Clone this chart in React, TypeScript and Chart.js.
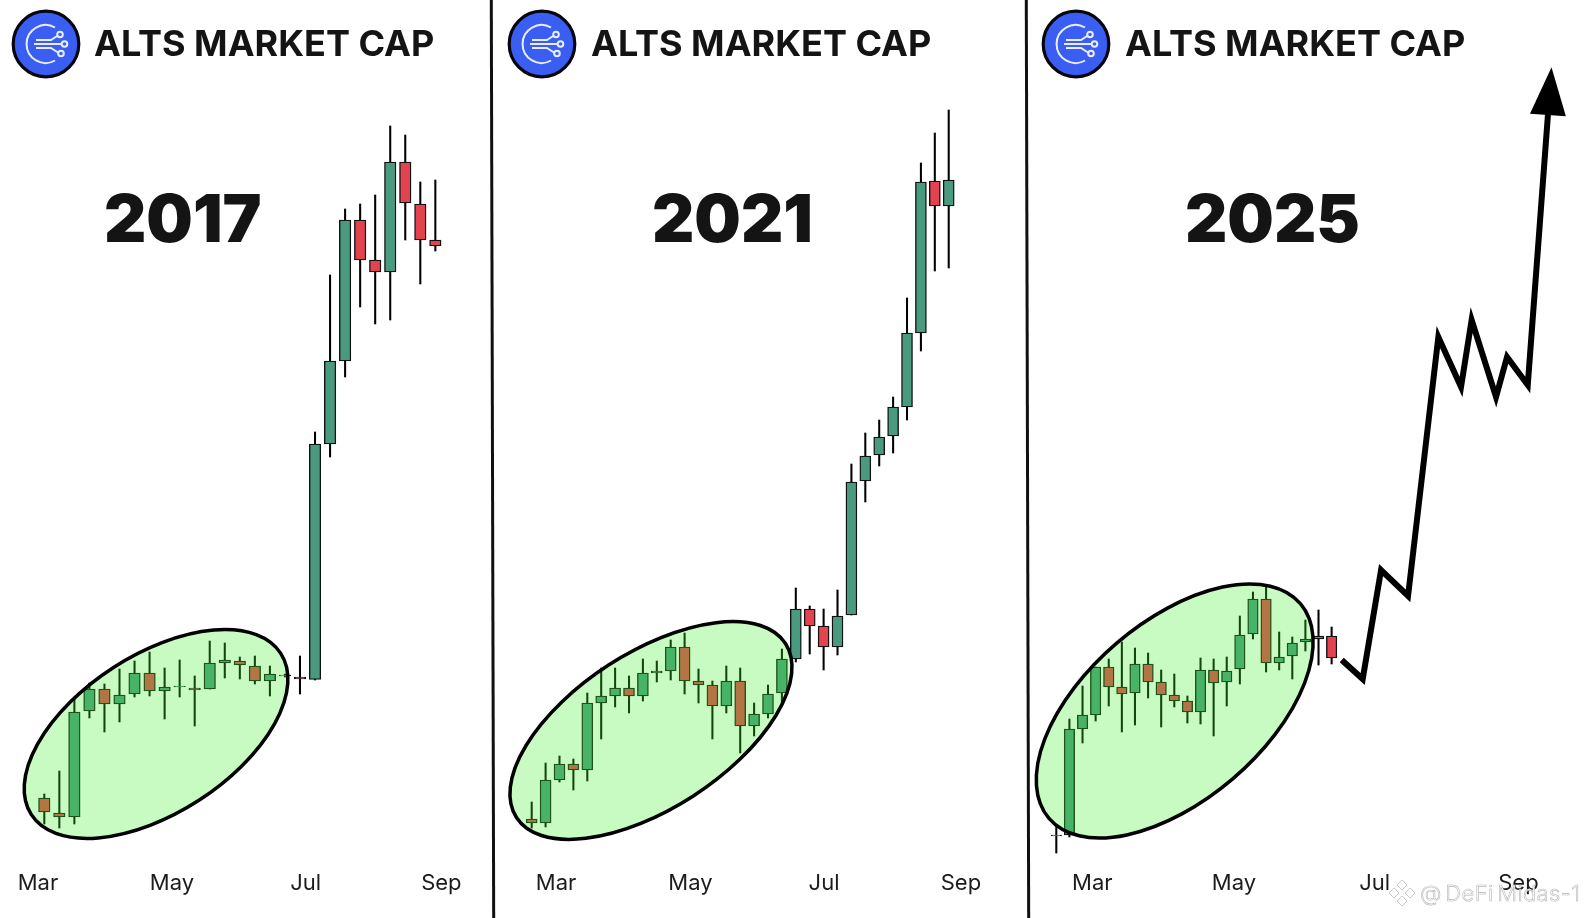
import React, { useEffect, useRef } from "react";
import { Chart, registerables } from "chart.js";

Chart.register(...registerables);

// 2017 weekly candles (index units)
const opens2017 = [120, 105, 101, 207, 229, 214, 224, 245, 227, 231, 230, 229, 255, 257, 252, 237, 242, 241, 238.5, 474, 557, 698, 658, 646, 756, 714, 678];
const closes2017 = [106, 101, 206, 229, 214, 223, 245, 227, 231, 232, 228, 255, 258, 253, 237, 244, 243, 239, 474, 557, 698, 658, 646, 756, 715, 678, 672];
const lows2017 = [94, 90, 94, 200, 186, 196, 221, 222, 199, 221, 192, 229, 240, 239, 234, 222, 241, 224, 238, 461, 541, 611, 594, 598, 678, 634, 667];
const highs2017 = [124, 147, 221, 235, 234, 249, 257, 266, 250, 258, 242, 277, 275, 261, 262, 252, 244, 262, 486, 643, 709, 714, 723, 792, 783, 736, 738];

// 2021 weekly candles
const opens2021 = [99, 95, 138, 154, 148, 215, 222, 230, 222, 245, 247, 271, 237, 233, 212, 237, 192, 204, 225, 259, 309, 292, 271, 303, 437, 463, 482, 511, 585, 737, 712];
const closes2021 = [95, 138, 154, 148, 215, 222, 230, 222, 245, 247, 271, 237, 233, 212, 237, 192, 204, 224, 259, 309, 292, 271, 302, 436, 462, 481, 511, 585, 736, 712, 738];
const lows2021 = [90, 91, 136, 128, 137, 179, 211, 205, 217, 236, 238, 224, 215, 179, 205, 165, 182, 200, 214, 256, 264, 248, 263, 303, 416, 452, 465, 498, 567, 647, 650];
const highs2021 = [116, 155, 162, 159, 225, 250, 250, 242, 259, 257, 278, 285, 249, 237, 252, 250, 215, 233, 269, 330, 312, 309, 328, 454, 485, 498, 521, 620, 755, 785, 808];

// 2025 weekly candles
const opens2025 = [82, 83, 189, 203, 251, 231, 225, 254, 236, 223, 217, 206, 248, 236, 249, 284, 319, 255, 262, 276, 279, 282];
const closes2025 = [83, 189, 203, 251, 231, 224, 254, 236, 223, 217, 206, 248, 235, 247, 283, 319, 255, 261, 275, 279, 282, 260];
const lows2025 = [65, 81, 175, 197, 212, 186, 193, 220, 191, 211, 195, 194, 182, 212, 234, 279, 246, 248, 239, 267, 253, 254];
const highs2025 = [92, 199, 232, 251, 259, 276, 270, 265, 248, 244, 222, 260, 259, 261, 302, 326, 331, 286, 281, 298, 308, 291];

// hand-drawn projection after the last 2025 candle
const forecastWeeks = [21.77, 23.37, 24.77, 26.83, 29.14, 30.87, 31.68, 33.54, 34.38, 35.96, 37.51];
const forecastValues = [258, 239, 348, 322, 581, 531, 598, 521, 561, 533, 805];

// month labels and where they fall on the week axis
const monthLabels = ["Mar", "May", "Jul", "Sep"];
const monthWeeks2017 = [-0.42, 8.49, 17.38, 26.4];
const monthWeeks2021 = [1.75, 11.42, 21.03, 30.88];
const monthWeeks2025 = [2.75, 13.55, 24.28, 35.25];

const UP = "#4a9a80";
const DOWN = "#e2434f";
const INK = "#000000";
const VALUE_MIN = 58;
const VALUE_MAX = 918;
const AXIS_H = 58;

type Panel = {
  left: number; width: number; xMin: number; xMax: number;
  o: number[]; c: number[]; l: number[]; h: number[]; months: number[];
  bar: number; ell: { x: number; y: number; a: number; b: number; rot: number };
  forecast?: boolean;
};

const panels: Panel[] = [
  { left: 0, width: 490, xMin: -2.945, xMax: 29.634, o: opens2017, c: closes2017, l: lows2017, h: highs2017, months: monthWeeks2017, bar: 11.5,
    ell: { x: 7.43, y: 184, a: 148.5, b: 79, rot: -32.9 } },
  { left: 493, width: 533, xMin: -2.784, xMax: 35.56, o: opens2021, c: closes2021, l: lows2021, h: highs2021, months: monthWeeks2021, bar: 11,
    ell: { x: 8.58, y: 187.5, a: 160.2, b: 78, rot: -32.9 } },
  { left: 1028, width: 564, xMin: -2.159, xMax: 40.86, o: opens2025, c: closes2025, l: lows2025, h: highs2025, months: monthWeeks2025, bar: 10.5,
    ell: { x: 9.03, y: 207, a: 165.3, b: 89.3, rot: -40.5 }, forecast: true },
];

function PanelChart({ p }: { p: Panel }) {
  const ref = useRef<HTMLCanvasElement>(null);
  useEffect(() => {
    const idx = p.o.map((_, i) => i);
    const colors = p.o.map((v, i) => (p.c[i] >= v ? UP : DOWN));
    const overlay = {
      id: "overlay",
      afterDatasetsDraw(chart: any) {
        const { ctx, scales } = chart;
        const e = p.ell;
        ctx.save();
        ctx.translate(scales.x.getPixelForValue(e.x), scales.y.getPixelForValue(e.y));
        ctx.rotate((e.rot * Math.PI) / 180);
        ctx.beginPath();
        ctx.ellipse(0, 0, e.a, e.b, 0, 0, Math.PI * 2);
        ctx.fillStyle = "rgba(65,242,42,0.29)";
        ctx.fill();
        ctx.lineWidth = 3.5;
        ctx.strokeStyle = "#000";
        ctx.stroke();
        ctx.restore();
        if (p.forecast) {
          const n = forecastWeeks.length - 1;
          const tx = scales.x.getPixelForValue(forecastWeeks[n]);
          const ty = scales.y.getPixelForValue(forecastValues[n]);
          const px = scales.x.getPixelForValue(forecastWeeks[n - 1]);
          const py = scales.y.getPixelForValue(forecastValues[n - 1]);
          const ang = Math.atan2(ty - py, tx - px);
          ctx.save();
          ctx.translate(tx, ty);
          ctx.rotate(ang);
          ctx.beginPath();
          ctx.moveTo(46, 0);
          ctx.lineTo(-2, -18);
          ctx.lineTo(-2, 18);
          ctx.closePath();
          ctx.fillStyle = "#000";
          ctx.fill();
          ctx.restore();
        }
      },
    };
    const datasets: any[] = [
      {
        type: "bar",
        label: "Body",
        data: idx.map((i) => ({ x: i, y: [p.o[i], p.c[i]] })),
        backgroundColor: colors,
        borderColor: "#111",
        borderWidth: 1.4,
        borderSkipped: false,
        barThickness: p.bar,
        grouped: false,
        order: 1,
      },
      {
        type: "bar",
        label: "Wick",
        data: idx.map((i) => ({ x: i, y: [p.l[i], p.h[i]] })),
        backgroundColor: INK,
        borderWidth: 0,
        borderSkipped: false,
        barThickness: 1.4,
        grouped: false,
        order: 2,
      },
    ];
    if (p.forecast) {
      datasets.push({
        type: "line",
        label: "Projection",
        data: forecastWeeks.map((x, i) => ({ x, y: forecastValues[i] })),
        borderColor: "#000",
        borderWidth: 6,
        borderJoinStyle: "miter",
        borderCapStyle: "butt",
        pointRadius: 0,
        tension: 0,
        fill: false,
        clip: false,
        order: 0,
      });
    }
    const chart = new Chart(ref.current as HTMLCanvasElement, {
      data: { datasets },
      plugins: [overlay],
      options: {
        animation: false,
        responsive: false,
        maintainAspectRatio: false,
        devicePixelRatio: 1,
        layout: { padding: 0 },
        plugins: { legend: { display: false }, title: { display: false }, tooltip: { enabled: false } },
        scales: {
          x: {
            type: "linear",
            min: p.xMin,
            max: p.xMax,
            offset: false,
            grid: { display: false, drawTicks: false },
            border: { display: false },
            afterBuildTicks: (s: any) => {
              s.ticks = p.months.map((value) => ({ value }));
            },
            afterFit: (s: any) => {
              s.height = AXIS_H;
            },
            ticks: {
              autoSkip: false,
              maxRotation: 0,
              padding: 10,
              color: "#1c1c1c",
              font: { family: "Inter", size: 22, weight: "400" },
              callback: (v: any) => monthLabels[p.months.indexOf(v)] ?? "",
            },
          },
          y: { type: "linear", display: false, min: VALUE_MIN, max: VALUE_MAX },
        },
      } as any,
    });
    return () => chart.destroy();
  }, [p]);
  return (
    <canvas
      ref={ref}
      width={p.width}
      height={918}
      style={{ position: "absolute", left: p.left, top: 0, width: p.width, height: 918 }}
    />
  );
}

function Logo({ x }: { x: number }) {
  return (
    <svg width={72} height={72} viewBox="-36 -36 72 72" style={{ position: "absolute", left: x - 36, top: 8 }}>
      <circle r={32.8} fill="#3a5ef2" stroke="#06060f" strokeWidth={3.2} />
      <g fill="none" stroke="#e8eeff" strokeWidth={2}>
        <path d="M 9 -16.5 A 19 19 0 1 0 9 16.5" />
        <path d="M -10 -4 H 5 L 12 -8.5" />
        <path d="M -12 0 H 16" />
        <path d="M -10 4 H 5 L 12 8.5" />
        <circle cx={14} cy={-9.5} r={2.8} />
        <circle cx={18.5} cy={0} r={2.8} />
        <circle cx={15} cy={9.5} r={2.8} />
      </g>
    </svg>
  );
}

const heading: React.CSSProperties = {
  position: "absolute", top: 19, font: "700 36px Inter", color: "#141414", whiteSpace: "nowrap", lineHeight: "48px",
};
const year: React.CSSProperties = {
  position: "absolute", top: 179, font: "900 65.5px Inter", color: "#141414", lineHeight: "80px",
};

export default function App() {
  useEffect(() => {
    document.body.style.margin = "0";
    document.body.style.background = "#fff";
  }, []);
  return (
    <div style={{ position: "fixed", left: 0, top: 0, width: 1592, height: 918, overflow: "hidden", background: "#fff" }}>
      {panels.map((p, i) => (
        <PanelChart key={i} p={p} />
      ))}
      <div style={{ position: "absolute", left: 490.5, top: -2, width: 3, height: 924, background: "#111", transform: "rotate(-0.15deg)" }} />
      <div style={{ position: "absolute", left: 1025.5, top: -2, width: 3, height: 924, background: "#111", transform: "rotate(-0.15deg)" }} />
      <Logo x={45.5} />
      <Logo x={542} />
      <Logo x={1075.5} />
      <div style={{ ...heading, left: 94 }}>ALTS MARKET CAP</div>
      <div style={{ ...heading, left: 591 }}>ALTS MARKET CAP</div>
      <div style={{ ...heading, left: 1125 }}>ALTS MARKET CAP</div>
      <div style={{ ...year, left: 104 }}>2017</div>
      <div style={{ ...year, left: 652 }}>2021</div>
      <div style={{ ...year, left: 1185 }}>2025</div>
      <svg width={30} height={30} viewBox="-15 -15 30 30" style={{ position: "absolute", left: 1387, top: 878 }}>
        <g fill="#fff" stroke="#c9c9c9" strokeWidth={1}>
          <path d="M 0 -13 L 5 -8 L 0 -3 L -5 -8 Z" />
          <path d="M -8 -5 L -3 0 L -8 5 L -13 0 Z" />
          <path d="M 8 -5 L 13 0 L 8 5 L 3 0 Z" />
          <path d="M 0 3 L 5 8 L 0 13 L -5 8 Z" />
        </g>
      </svg>
      <div style={{ position: "absolute", left: 1420, top: 878, font: "300 22px Inter", color: "#fff", WebkitTextStroke: "0.6px #b5b5b5", whiteSpace: "nowrap", lineHeight: "30px", wordSpacing: "-3px", letterSpacing: "0.4px" }}>@ DeFi Midas-1</div>
    </div>
  );
}
